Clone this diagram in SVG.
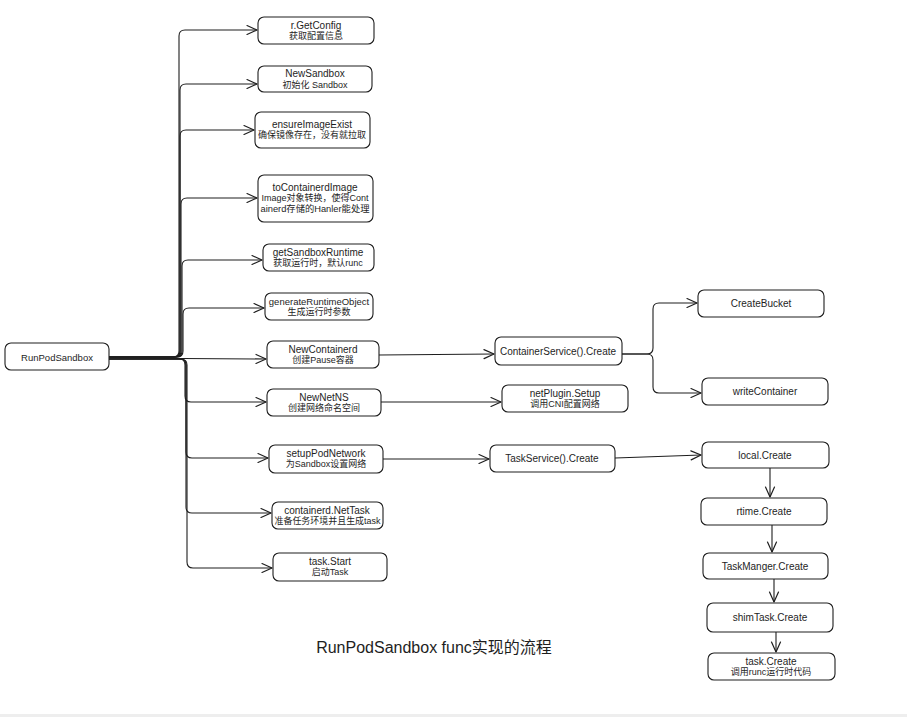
<svg xmlns="http://www.w3.org/2000/svg" width="907" height="717" viewBox="0 0 907 717">
<defs>
<marker id="ah" markerUnits="userSpaceOnUse" markerWidth="14" markerHeight="12" refX="11" refY="6" orient="auto">
<path d="M1,1.5 L11,6 L1,10.5" fill="none" stroke="#1e1e1e" stroke-width="1.2" stroke-linecap="round" stroke-linejoin="round"/>
</marker>
<style>
.box{fill:#ffffff;stroke:#1e1e1e;stroke-width:1.1}
.t{font-family:"Liberation Sans","Noto Sans CJK SC",sans-serif;font-size:10px;fill:#1e1e1e;text-anchor:middle;dominant-baseline:central}
.z{font-size:9px}
.c{fill:none;stroke:#1e1e1e;stroke-width:1.1;marker-end:url(#ah)}
.title{font-family:"Liberation Sans","Noto Sans CJK SC",sans-serif;font-size:16px;fill:#1e1e1e;text-anchor:middle;dominant-baseline:central}
</style>
</defs>
<rect x="0" y="0" width="907" height="717" fill="#ffffff"/>
<rect x="0" y="714" width="907" height="3" fill="#eeeeee"/>
<g id="connectors">
<path class="c" d="M109,357 H173 Q179,357 179,351 V36 Q179,30 185,30 H257"/>
<path class="c" d="M109,357 H174 Q180,357 180,351 V90 Q180,84 186,84 H257"/>
<path class="c" d="M109,357 H174 Q180,357 180,351 V136 Q180,130 186,130 H254"/>
<path class="c" d="M109,357 H175 Q181,357 181,351 V204 Q181,198 187,198 H257"/>
<path class="c" d="M109,357 H176 Q182,357 182,351 V266 Q182,260 188,260 H262"/>
<path class="c" d="M109,357 H177 Q183,357 183,351 V314 Q183,308 189,308 H264"/>
<path class="c" d="M109,358 L266,359"/>
<path class="c" d="M109,359 H179 Q185,359 185,365 V396 Q185,402 191,402 H266"/>
<path class="c" d="M109,359 H180 Q186,359 186,365 V452 Q186,458 192,458 H268"/>
<path class="c" d="M109,359 H180 Q186,359 186,365 V507 Q186,513 192,513 H271"/>
<path class="c" d="M109,359 H181 Q187,359 187,365 V562 Q187,568 193,568 H272"/>
<path class="c" d="M379,355 L494,354"/>
<path class="c" d="M381,402 L501,402"/>
<path class="c" d="M383,459 L489,459"/>
<path class="c" d="M622,354 H647 Q653,354 653,348 V309 Q653,303 659,303 H697"/>
<path class="c" d="M622,354 H647 Q653,354 653,360 V387 Q653,393 659,393 H701"/>
<path class="c" d="M615,458 L701,455"/>
<path class="c" d="M770,468 L770,497"/>
<path class="c" d="M772,525 L772,552"/>
<path class="c" d="M774,579 L774,602"/>
<path class="c" d="M776,632 L776,652"/>
</g>
<g id="RunPodSandbox"><rect class="box" x="5" y="343" width="104" height="27" rx="6"/><text class="t" x="57" y="357" style="font-size:9.5px">RunPodSandbox</text></g>
<g id="GetConfig"><rect class="box" x="258" y="17" width="116" height="27" rx="6"/><text class="t" x="316" y="25">r.GetConfig</text><text class="t z" x="316" y="36">获取配置信息</text></g>
<g id="NewSandbox"><rect class="box" x="258" y="66" width="114" height="26" rx="6"/><text class="t" x="315" y="73.5">NewSandbox</text><text class="t z" x="315" y="84.5">初始化 Sandbox</text></g>
<g id="ensureImageExist"><rect class="box" x="255" y="112" width="115" height="36" rx="6"/><text class="t" x="312" y="124">ensureImageExist</text><text class="t z" x="312" y="135" textLength="108" lengthAdjust="spacingAndGlyphs">确保镜像存在，没有就拉取</text></g>
<g id="toContainerdImage"><rect class="box" x="258" y="175" width="115" height="47" rx="6"/><text class="t" x="315" y="187">toContainerdImage</text><text class="t z" x="315" y="198" textLength="107" lengthAdjust="spacingAndGlyphs">Image对象转换，使得Cont</text><text class="t z" x="315" y="209" textLength="109" lengthAdjust="spacingAndGlyphs">ainerd存储的Hanler能处理</text></g>
<g id="getSandboxRuntime"><rect class="box" x="263" y="244" width="111" height="27" rx="6"/><text class="t" x="318" y="252">getSandboxRuntime</text><text class="t z" x="318" y="263">获取运行时，默认runc</text></g>
<g id="generateRuntimeObject"><rect class="box" x="265" y="293" width="108" height="27" rx="6"/><text class="t" x="319" y="301" style="font-size:9.5px">generateRuntimeObject</text><text class="t z" x="319" y="312">生成运行时参数</text></g>
<g id="NewContainerd"><rect class="box" x="267" y="341" width="112" height="27" rx="6"/><text class="t" x="323" y="349">NewContainerd</text><text class="t z" x="323" y="360">创建Pause容器</text></g>
<g id="NewNetNS"><rect class="box" x="267" y="389" width="114" height="27" rx="6"/><text class="t" x="324" y="397">NewNetNS</text><text class="t z" x="324" y="408">创建网络命名空间</text></g>
<g id="setupPodNetwork"><rect class="box" x="269" y="445" width="114" height="28" rx="6"/><text class="t" x="326" y="453">setupPodNetwork</text><text class="t z" x="326" y="464">为Sandbox设置网络</text></g>
<g id="NetTask"><rect class="box" x="272" y="502" width="111" height="27" rx="6"/><text class="t" x="327" y="510">containerd.NetTask</text><text class="t z" x="327.5" y="521" textLength="106" lengthAdjust="spacingAndGlyphs">准备任务环境并且生成task</text></g>
<g id="taskStart"><rect class="box" x="273" y="553" width="114" height="28" rx="6"/><text class="t" x="330" y="561">task.Start</text><text class="t z" x="330" y="572">启动Task</text></g>
<g id="ContainerService"><rect class="box" x="495" y="337" width="127" height="28" rx="6"/><text class="t" x="558" y="351">ContainerService().Create</text></g>
<g id="netPlugin"><rect class="box" x="502" y="385" width="126" height="27" rx="6"/><text class="t" x="565" y="393">netPlugin.Setup</text><text class="t z" x="565" y="404">调用CNI配置网络</text></g>
<g id="TaskService"><rect class="box" x="490" y="445" width="125" height="27" rx="6"/><text class="t" x="552" y="458.5">TaskService().Create</text></g>
<g id="CreateBucket"><rect class="box" x="698" y="290" width="126" height="27" rx="6"/><text class="t" x="761" y="303.5">CreateBucket</text></g>
<g id="writeContainer"><rect class="box" x="702" y="378" width="126" height="27" rx="6"/><text class="t" x="765" y="391.5">writeContainer</text></g>
<g id="localCreate"><rect class="box" x="702" y="442" width="127" height="26" rx="6"/><text class="t" x="765" y="455">local.Create</text></g>
<g id="rtimeCreate"><rect class="box" x="701" y="498" width="126" height="27" rx="6"/><text class="t" x="764" y="511.5">rtime.Create</text></g>
<g id="TaskMangerCreate"><rect class="box" x="703" y="553" width="125" height="26" rx="6"/><text class="t" x="765" y="566">TaskManger.Create</text></g>
<g id="shimTaskCreate"><rect class="box" x="707" y="603" width="126" height="29" rx="6"/><text class="t" x="770" y="617">shimTask.Create</text></g>
<g id="taskCreate"><rect class="box" x="708" y="653" width="127" height="27" rx="6"/><text class="t" x="771" y="661">task.Create</text><text class="t z" x="771" y="672">调用runc运行时代码</text></g>
<text class="title" x="434" y="647">RunPodSandbox func实现的流程</text>
</svg>
